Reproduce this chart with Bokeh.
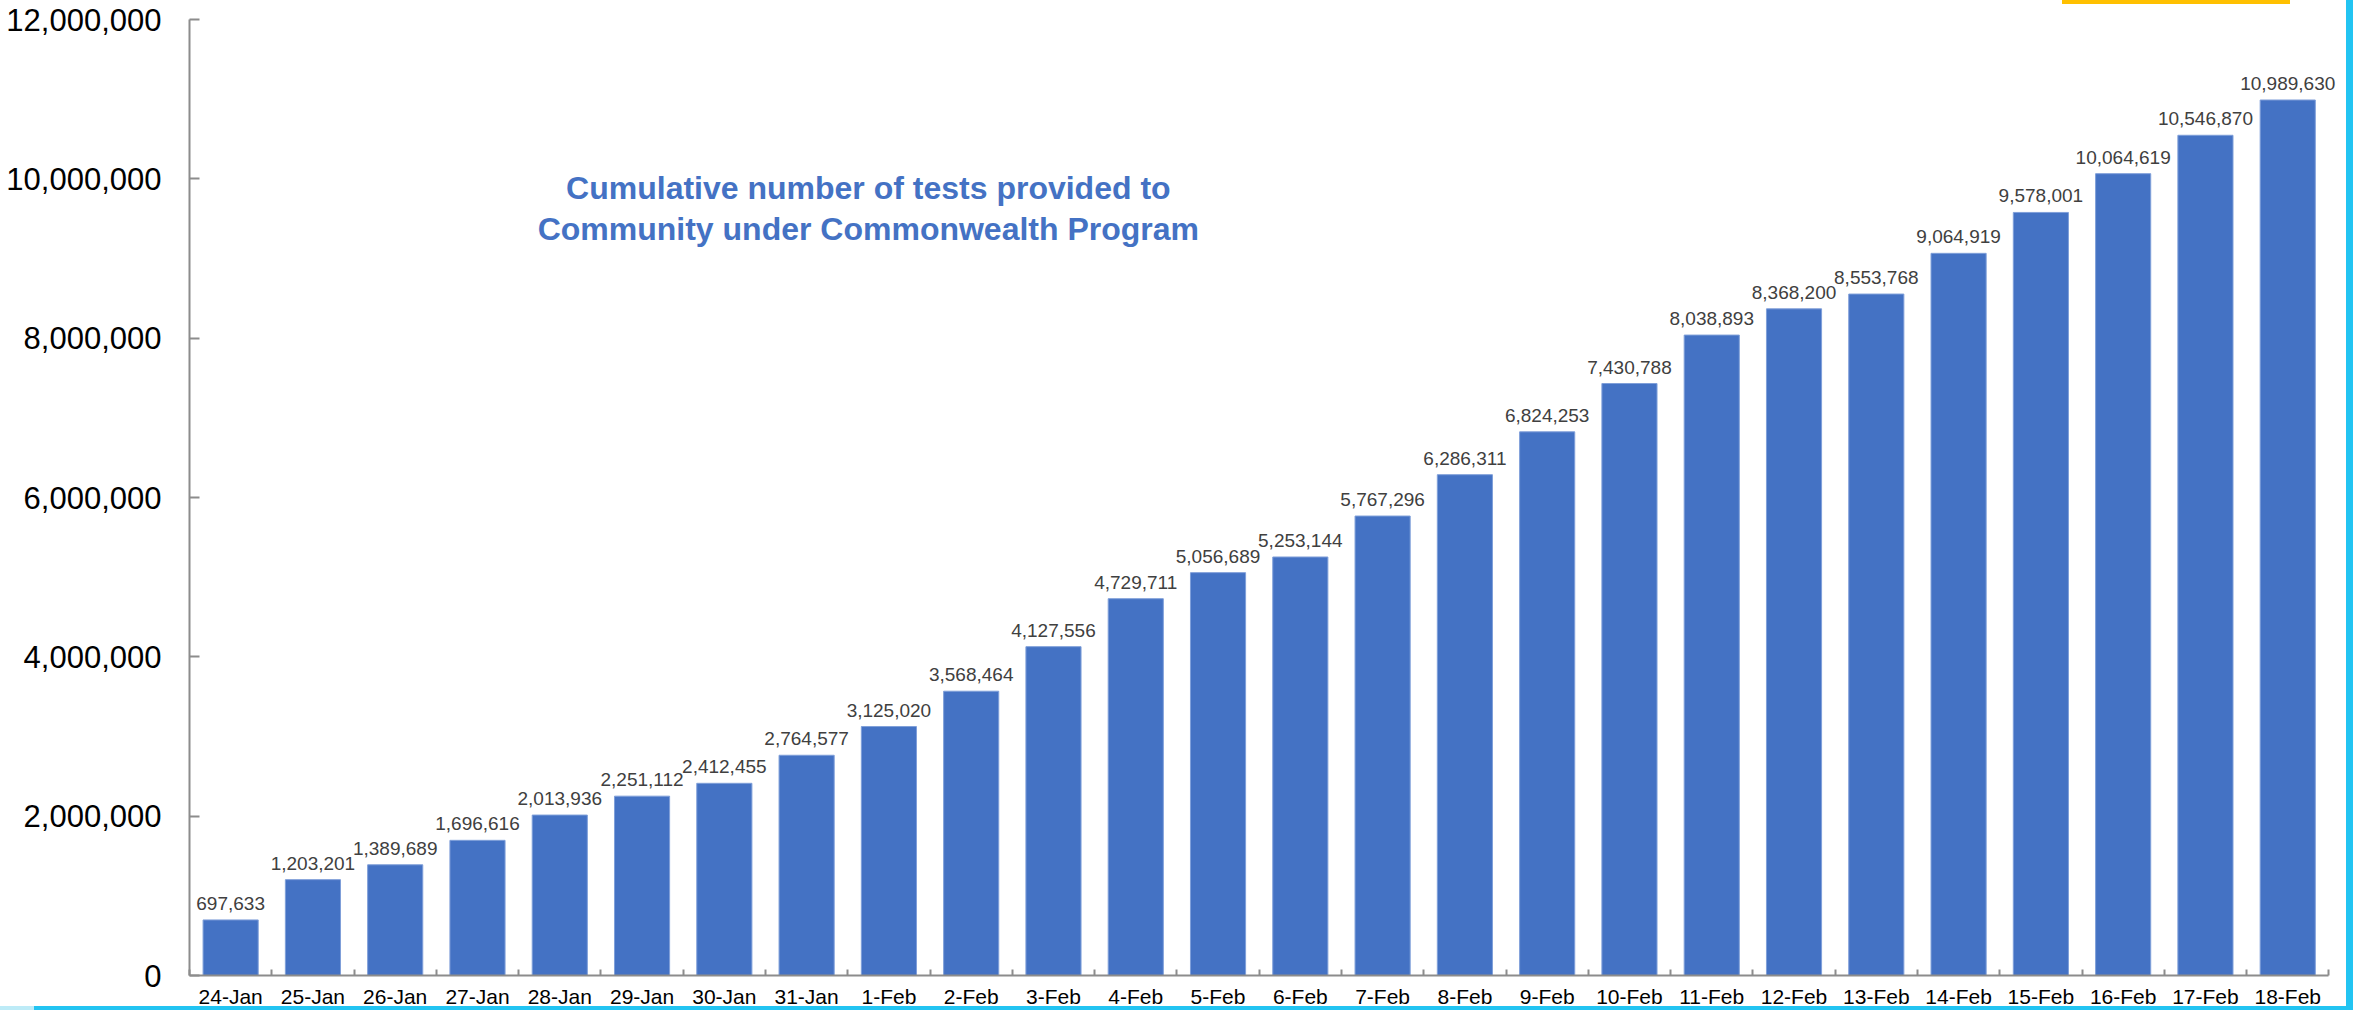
from bokeh.plotting import figure
from bokeh.models import (Range1d, FixedTicker, NumeralTickFormatter, ColumnDataSource,
                          LabelSet, Label)
from bokeh.core.properties import value
from bokeh.embed import file_html
from bokeh.resources import INLINE

# ---- data ----
dates = ["24-Jan", "25-Jan", "26-Jan", "27-Jan", "28-Jan", "29-Jan", "30-Jan", "31-Jan",
         "1-Feb", "2-Feb", "3-Feb", "4-Feb", "5-Feb", "6-Feb", "7-Feb", "8-Feb", "9-Feb",
         "10-Feb", "11-Feb", "12-Feb", "13-Feb", "14-Feb", "15-Feb", "16-Feb", "17-Feb", "18-Feb"]
tests = [697633, 1203201, 1389689, 1696616, 2013936, 2251112, 2412455, 2764577,
         3125020, 3568464, 4127556, 4729711, 5056689, 5253144, 5767296, 6286311, 6824253,
         7430788, 8038893, 8368200, 8553768, 9064919, 9578001, 10064619, 10546870, 10989630]
y_ticks = [0, 2000000, 4000000, 6000000, 8000000, 10000000, 12000000]
title_lines = ["Cumulative number of tests provided to",
               "Community under Commonwealth Program"]

FONT = "Liberation Sans"
BLUE = "#4472C4"
AXIS = "#8C8C8C"

n = len(dates)
centers = [i + 0.5 for i in range(n)]
src = ColumnDataSource(dict(x=centers, tests=tests, label=[f"{v:,}" for v in tests]))

# frame extends a little past the last category so the last value label is not clipped;
# the axis line itself is bounded to the categories
p = figure(width=2353, height=1010,
           x_range=Range1d(0, n + 0.19), y_range=Range1d(0, 12000000),
           output_backend="svg", toolbar_location=None,
           min_border_left=189, min_border_right=9, min_border_top=19, min_border_bottom=34)
p.background_fill_color = "white"
p.border_fill_color = None
p.outline_line_color = None
p.xgrid.visible = False
p.ygrid.visible = False

# slide decorations (yellow accent at top, cyan frame at right and bottom)
p.styles = {
    "background": (
        "linear-gradient(#FFC000,#FFC000) 2062px 0px / 228px 4px no-repeat, "
        "linear-gradient(#22C4F2,#22C4F2) 2346px 0px / 7px 100% no-repeat, "
        "linear-gradient(#22C4F2,#22C4F2) 34px 1006px / 2319px 4px no-repeat, "
        "linear-gradient(#BDEBF7,#BDEBF7) 0px 1006px / 34px 4px no-repeat, "
        "white"
    )
}

p.vbar(x="x", top="tests", width=0.67, source=src,
       fill_color=BLUE, line_color="#7F9FD9", line_width=1)

labels = LabelSet(x="x", y="tests", text="label", source=src,
                  text_align="center", text_baseline="bottom", y_offset=10,
                  text_font=value(FONT), text_font_size=value("19px"), text_color=value("#404040"))
p.add_layout(labels)

# x axis: labels at centres, ticks between categories
xa = p.xaxis[0]
xa.bounds = (0, n)
xa.ticker = FixedTicker(ticks=centers, minor_ticks=list(range(n + 1)))
xa.major_label_overrides = {c: d for c, d in zip(centers, dates)}
xa.major_tick_in = 0
xa.major_tick_out = 0
xa.minor_tick_in = 6
xa.minor_tick_out = 0
xa.minor_tick_line_color = AXIS
xa.minor_tick_line_width = 2
xa.axis_line_color = AXIS
xa.axis_line_width = 2
xa.major_label_text_font = FONT
xa.major_label_text_font_size = "21px"
xa.major_label_text_color = "black"
xa.major_label_standoff = 9

ya = p.yaxis[0]
ya.ticker = FixedTicker(ticks=y_ticks)
ya.formatter = NumeralTickFormatter(format="0,0")
ya.major_tick_in = 10
ya.major_tick_out = 0
ya.minor_tick_line_color = None
ya.major_tick_line_color = AXIS
ya.major_tick_line_width = 2
ya.axis_line_color = AXIS
ya.axis_line_width = 2
ya.major_label_text_font = FONT
ya.major_label_text_font_size = "31px"
ya.major_label_text_color = "black"
ya.major_label_standoff = 28

# title inside the plot
for txt, yv in zip(title_lines, [9880000, 9370000]):
    p.add_layout(Label(x=8.25, y=yv, text=txt, text_align="center", text_baseline="middle",
                       text_font=FONT, text_font_size="32px", text_font_style="bold",
                       text_color=BLUE))

open("out.html", "w").write(file_html(p, INLINE))
